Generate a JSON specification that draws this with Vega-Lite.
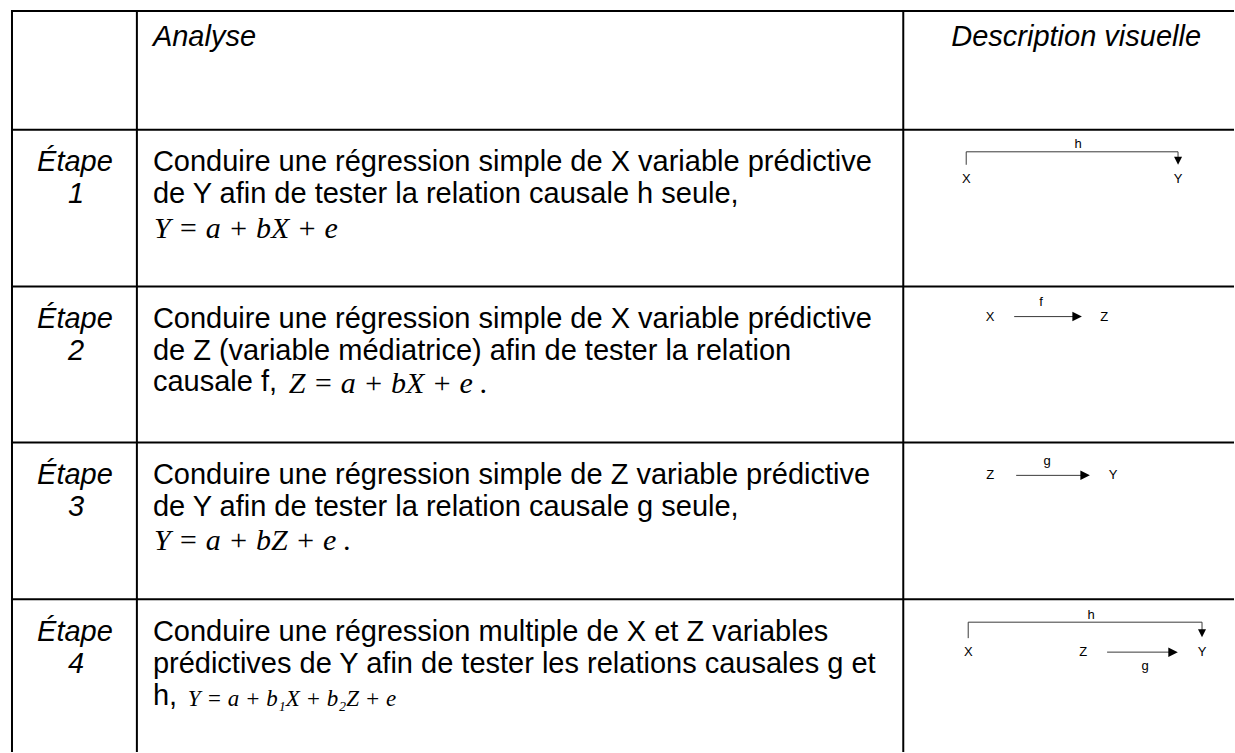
{
  "$schema": "https://vega.github.io/schema/vega-lite/v6.json",
  "width": 1235,
  "height": 753,
  "padding": 0,
  "autosize": {"type": "fit", "contains": "padding"},
  "background": "white",
  "config": {"view": {"stroke": null}},
  "datasets": {
    "grid": [
      {"x": 11, "x2": 1235, "y": 11, "y2": 11},
      {"x": 11, "x2": 1235, "y": 130, "y2": 130},
      {"x": 11, "x2": 1235, "y": 287, "y2": 287},
      {"x": 11, "x2": 1235, "y": 443, "y2": 443},
      {"x": 11, "x2": 1235, "y": 600, "y2": 600},
      {"x": 12, "x2": 12, "y": 10, "y2": 753},
      {"x": 137, "x2": 137, "y": 10, "y2": 753},
      {"x": 904, "x2": 904, "y": 10, "y2": 753}
    ],
    "body": [
      {"x": 153, "y": 171, "t": "Conduire une régression simple de X variable prédictive"},
      {"x": 153, "y": 203, "t": "de Y afin de tester la relation causale h seule,"},
      {"x": 153, "y": 328, "t": "Conduire une régression simple de X variable prédictive"},
      {"x": 153, "y": 360, "t": "de Z (variable médiatrice) afin de tester la relation"},
      {"x": 153, "y": 392, "t": "causale f,"},
      {"x": 153, "y": 485, "t": "Conduire une régression simple de Z variable prédictive"},
      {"x": 153, "y": 517, "t": "de Y afin de tester la relation causale g seule,"},
      {"x": 153, "y": 642, "t": "Conduire une régression multiple de X et Z variables"},
      {"x": 153, "y": 674, "t": "prédictives de Y afin de tester les relations causales g et"},
      {"x": 153, "y": 706, "t": "h,"}
    ],
    "italicLeft": [
      {"x": 153, "y": 46, "t": "Analyse"}
    ],
    "italicCenter": [
      {"x": 1077, "y": 46, "t": "Description visuelle"},
      {"x": 75, "y": 171, "t": "Étape"},
      {"x": 76, "y": 203, "t": "1"},
      {"x": 75, "y": 328, "t": "Étape"},
      {"x": 76, "y": 360, "t": "2"},
      {"x": 75, "y": 485, "t": "Étape"},
      {"x": 76, "y": 517, "t": "3"},
      {"x": 75, "y": 642, "t": "Étape"},
      {"x": 76, "y": 674, "t": "4"}
    ],
    "math": [
      {"x": 154, "y": 238, "t": "Y = a + bX + e"},
      {"x": 289, "y": 394, "t": "Z = a + bX + e ."},
      {"x": 154, "y": 551, "t": "Y = a + bZ + e ."}
    ],
    "mathSmall": [
      {"x": 188, "y": 707, "t": "Y = a + b₁X  + b₂Z + e"}
    ],
    "dlines": [
      {"x": 967, "x2": 967, "y": 152, "y2": 165},
      {"x": 967, "x2": 1179, "y": 152, "y2": 152},
      {"x": 1179, "x2": 1179, "y": 152, "y2": 159},
      {"x": 1015, "x2": 1075, "y": 317, "y2": 317},
      {"x": 1017, "x2": 1082, "y": 476, "y2": 476},
      {"x": 969, "x2": 969, "y": 623, "y2": 639},
      {"x": 969, "x2": 1203, "y": 623, "y2": 623},
      {"x": 1203, "x2": 1203, "y": 623, "y2": 631},
      {"x": 1108, "x2": 1171, "y": 653, "y2": 653}
    ],
    "headsDown": [
      {"x": 1179, "y": 161},
      {"x": 1203, "y": 634}
    ],
    "headsRight": [
      {"x": 1078, "y": 317},
      {"x": 1086, "y": 476},
      {"x": 1174, "y": 653}
    ],
    "dlabels": [
      {"x": 1079, "y": 144, "t": "h"},
      {"x": 967, "y": 179, "t": "X"},
      {"x": 1179, "y": 179, "t": "Y"},
      {"x": 991, "y": 317, "t": "X"},
      {"x": 1042, "y": 302, "t": "f"},
      {"x": 1105, "y": 317, "t": "Z"},
      {"x": 991, "y": 476, "t": "Z"},
      {"x": 1048, "y": 462, "t": "g"},
      {"x": 1114, "y": 476, "t": "Y"},
      {"x": 1092, "y": 616, "t": "h"},
      {"x": 969, "y": 653, "t": "X"},
      {"x": 1084, "y": 653, "t": "Z"},
      {"x": 1203, "y": 653, "t": "Y"},
      {"x": 1146, "y": 667, "t": "g"}
    ]
  },
  "layer": [
    {
      "data": {"name": "grid"},
      "mark": {"type": "rule", "color": "black", "strokeWidth": 2},
      "encoding": {
        "x": {"field": "x", "type": "quantitative", "scale": {"domain": [0, 1235], "nice": false, "zero": false}, "axis": null},
        "x2": {"field": "x2"},
        "y": {"field": "y", "type": "quantitative", "scale": {"domain": [0, 753], "nice": false, "zero": false, "reverse": true}, "axis": null},
        "y2": {"field": "y2"}
      }
    },
    {
      "data": {"name": "dlines"},
      "mark": {"type": "rule", "color": "#3a3a3a", "strokeWidth": 1},
      "encoding": {
        "x": {"field": "x", "type": "quantitative", "axis": null},
        "x2": {"field": "x2"},
        "y": {"field": "y", "type": "quantitative", "axis": null},
        "y2": {"field": "y2"}
      }
    },
    {
      "data": {"name": "headsDown"},
      "mark": {"type": "point", "shape": "M-1,-1L1,-1L0,1Z", "filled": true, "color": "black", "opacity": 1, "size": 64},
      "encoding": {
        "x": {"field": "x", "type": "quantitative", "axis": null},
        "y": {"field": "y", "type": "quantitative", "axis": null}
      }
    },
    {
      "data": {"name": "headsRight"},
      "mark": {"type": "point", "shape": "M-1,-1L1,0L-1,1Z", "filled": true, "color": "black", "opacity": 1, "size": 90},
      "encoding": {
        "x": {"field": "x", "type": "quantitative", "axis": null},
        "y": {"field": "y", "type": "quantitative", "axis": null}
      }
    },
    {
      "data": {"name": "body"},
      "mark": {"type": "text", "font": "Liberation Sans", "fontSize": 29, "align": "left", "baseline": "alphabetic", "color": "black"},
      "encoding": {
        "x": {"field": "x", "type": "quantitative", "axis": null},
        "y": {"field": "y", "type": "quantitative", "axis": null},
        "text": {"field": "t"}
      }
    },
    {
      "data": {"name": "italicLeft"},
      "mark": {"type": "text", "font": "Liberation Sans", "fontSize": 29, "fontStyle": "italic", "align": "left", "baseline": "alphabetic", "color": "black"},
      "encoding": {
        "x": {"field": "x", "type": "quantitative", "axis": null},
        "y": {"field": "y", "type": "quantitative", "axis": null},
        "text": {"field": "t"}
      }
    },
    {
      "data": {"name": "italicCenter"},
      "mark": {"type": "text", "font": "Liberation Sans", "fontSize": 29, "fontStyle": "italic", "align": "center", "baseline": "alphabetic", "color": "black"},
      "encoding": {
        "x": {"field": "x", "type": "quantitative", "axis": null},
        "y": {"field": "y", "type": "quantitative", "axis": null},
        "text": {"field": "t"}
      }
    },
    {
      "data": {"name": "math"},
      "mark": {"type": "text", "font": "Liberation Serif", "fontSize": 30, "fontStyle": "italic", "align": "left", "baseline": "alphabetic", "color": "black"},
      "encoding": {
        "x": {"field": "x", "type": "quantitative", "axis": null},
        "y": {"field": "y", "type": "quantitative", "axis": null},
        "text": {"field": "t"}
      }
    },
    {
      "data": {"name": "mathSmall"},
      "mark": {"type": "text", "font": "Liberation Serif", "fontSize": 23, "fontStyle": "italic", "align": "left", "baseline": "alphabetic", "color": "black"},
      "encoding": {
        "x": {"field": "x", "type": "quantitative", "axis": null},
        "y": {"field": "y", "type": "quantitative", "axis": null},
        "text": {"field": "t"}
      }
    },
    {
      "data": {"name": "dlabels"},
      "mark": {"type": "text", "font": "Liberation Sans", "fontSize": 13, "align": "center", "baseline": "middle", "color": "black"},
      "encoding": {
        "x": {"field": "x", "type": "quantitative", "axis": null},
        "y": {"field": "y", "type": "quantitative", "axis": null},
        "text": {"field": "t"}
      }
    }
  ]
}
